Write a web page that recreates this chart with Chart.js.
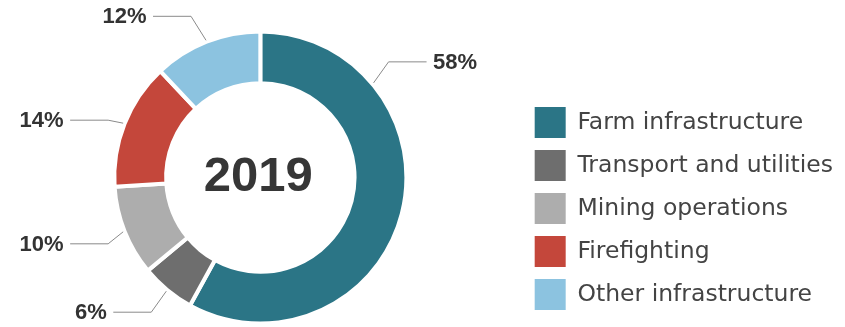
<!DOCTYPE html>
<html>
<head>
<meta charset="utf-8">
<script src="https://cdn.jsdelivr.net/npm/chart.js@4.4.1/dist/chart.umd.min.js"></script>
<style>
  html, body { margin: 0; padding: 0; background: #fff; overflow: hidden; }
  #wrap { width: 845px; height: 327px; margin-left: -2px; }
</style>
</head>
<body>
<div id="wrap"><canvas id="usoChart" width="845" height="327"></canvas></div>
<script>
// ano mostrado no centro do anel
const year = '2019';

const categories = [
  'Farm infrastructure',
  'Transport and utilities',
  'Mining operations',
  'Firefighting',
  'Other infrastructure'
];
const shares = [58, 6, 10, 14, 12];
const colours = ['#2b7586', '#6e6e6e', '#adadad', '#c4473b', '#8cc3e0'];

// dobra de cada linha de chamada: ponto na fatia (fração do arco) e subida até a horizontal
const leaderBends = [
  { at: 0.24, rise: -21 },
  { at: 0.5, rise: 21 },
  { at: 0.5, rise: 12 },
  { at: 0.5, rise: -3 },
  { at: 0.5, rise: -24 }
];

// linhas de chamada com o percentual de cada fatia
const leaderLines = {
  id: 'leaderLines',
  afterDatasetsDraw(chart, args, opts) {
    const meta = chart.getDatasetMeta(0);
    const ctx = chart.ctx;
    const values = chart.data.datasets[0].data;
    ctx.save();
    ctx.strokeStyle = opts.lineColor;
    ctx.lineWidth = 1;
    ctx.fillStyle = opts.textColor;
    ctx.font = opts.font;
    ctx.textBaseline = 'middle';
    meta.data.forEach((arc, i) => {
      const p = arc.getProps(['x', 'y', 'startAngle', 'endAngle', 'outerRadius'], true);
      const bend = leaderBends[i];
      const a = p.startAngle + (p.endAngle - p.startAngle) * bend.at;
      const r0 = p.outerRadius + opts.gap;
      const x0 = p.x + Math.cos(a) * r0;
      const y0 = p.y + Math.sin(a) * r0;
      const side = Math.cos(a) >= 0 ? 1 : -1;
      const x1 = x0 + side * opts.run;
      const y1 = y0 + bend.rise;
      const x2 = x1 + side * opts.shelf;
      ctx.beginPath();
      ctx.moveTo(x0, y0);
      ctx.lineTo(x1, y1);
      ctx.lineTo(x2, y1);
      ctx.stroke();
      ctx.textAlign = side > 0 ? 'left' : 'right';
      ctx.fillText(values[i] + '%', x2 + side * opts.textGap, y1 + 1);
    });
    ctx.restore();
  }
};

// texto central do anel
const centreLabel = {
  id: 'centreLabel',
  afterDatasetsDraw(chart, args, opts) {
    const arc = chart.getDatasetMeta(0).data[0];
    if (!arc) return;
    const ctx = chart.ctx;
    ctx.save();
    ctx.font = opts.font;
    ctx.fillStyle = opts.color;
    ctx.textAlign = 'center';
    ctx.textBaseline = 'middle';
    ctx.fillText(opts.text, arc.x - 2, arc.y);
    ctx.restore();
  }
};

const canvas = document.getElementById('usoChart');
new Chart(canvas.getContext('2d'), {
  type: 'doughnut',
  data: {
    labels: categories,
    datasets: [{
      data: shares,
      backgroundColor: colours,
      borderColor: '#ffffff',
      borderWidth: 4
    }]
  },
  options: {
    responsive: false,
    animation: false,
    events: [],
    radius: '102.5%',
    cutout: '64.5%',
    layout: { padding: { top: 33, bottom: 5, left: 0, right: 0 } },
    plugins: {
      tooltip: { enabled: false },
      legend: {
        position: 'right',
        align: 'end',
        labels: {
          boxWidth: 31,
          boxHeight: 31,
          padding: 12,
          color: '#444444',
          font: { family: 'DejaVu Sans', size: 23.5 },
          generateLabels: (chart) =>
            Chart.overrides.doughnut.plugins.legend.labels.generateLabels(chart)
              .map(item => ({ ...item, lineWidth: 0 }))
        }
      },
      leaderLines: {
        lineColor: '#8a8a8a',
        textColor: '#333333',
        font: 'bold 22px "Liberation Sans", Arial, sans-serif',
        gap: 1.5,
        run: 15,
        shelf: 38,
        textGap: 6.5
      },
      centreLabel: {
        text: year,
        color: '#363636',
        font: 'bold 49px "Liberation Sans", Arial, sans-serif'
      }
    }
  },
  plugins: [leaderLines, centreLabel]
});
</script>
</body>
</html>
